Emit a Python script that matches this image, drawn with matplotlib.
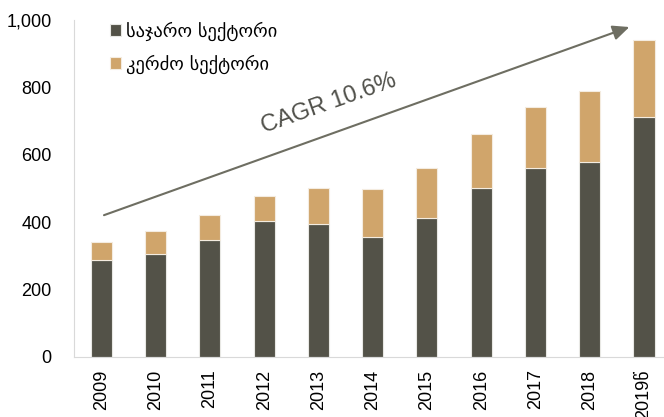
import matplotlib.pyplot as plt
import numpy as np

years = ["2009", "2010", "2011", "2012", "2013", "2014", "2015", "2016", "2017", "2018", "2019წ"]
public = [288, 306, 347, 404, 395, 357, 412, 500, 560, 579, 713]
private = [53, 68, 74, 74, 106, 140, 149, 163, 182, 211, 228]
labels = ["საჯარო სექტორი", "კერძო სექტორი"]

dark = "#535248"
tan = "#d0a56b"

plt.rcParams['font.family'] = ['Liberation Sans', 'DejaVu Sans']

fig = plt.figure(figsize=(6.64, 4.17), dpi=100)
ax = fig.add_axes([0.111, 0.144, 0.889, 0.808])

x = np.arange(len(years))
ax.bar(x, public, width=0.39, color=dark, edgecolor="#e8e8e4", linewidth=0.8, label=labels[0])
ax.bar(x, private, width=0.39, bottom=public, color=tan, edgecolor="#f4ece0", linewidth=0.8, label=labels[1])

ax.set_xlim(-0.51, 10.37)
ax.set_ylim(0, 1000)
ax.set_yticks([0, 200, 400, 600, 800, 1000])
ax.set_yticklabels(["0", "200", "400", "600", "800", "1,000"], fontsize=13)
ax.set_xticks(x)
ax.set_xticklabels(years, rotation=90, fontsize=13)
ax.tick_params(length=0)
ax.tick_params(axis='x', pad=9)
ax.tick_params(axis='y', pad=16)

for s in ["top", "right"]:
    ax.spines[s].set_visible(False)
ax.spines["left"].set_color("#d9d9d9")
ax.spines["bottom"].set_color("#d9d9d9")

# CAGR arrow across the bars
ax.annotate("", xy=(9.78, 982), xytext=(0.0, 418),
            arrowprops=dict(arrowstyle="-|>,head_length=1.0,head_width=0.45", color="#6e6e62", lw=1.5))
ax.text(4.2, 752, "CAGR 10.6%", fontsize=17, color="#50504a", rotation=19.5,
        ha="center", va="center", rotation_mode="anchor")

leg = ax.legend(loc="upper left", bbox_to_anchor=(0.033, 1.045), frameon=False,
                handlelength=0.6, handleheight=0.6, handletextpad=0.3,
                labelspacing=0.75, prop={'family': 'DejaVu Sans', 'size': 13.3})

fig.savefig("out.png", dpi=100)
